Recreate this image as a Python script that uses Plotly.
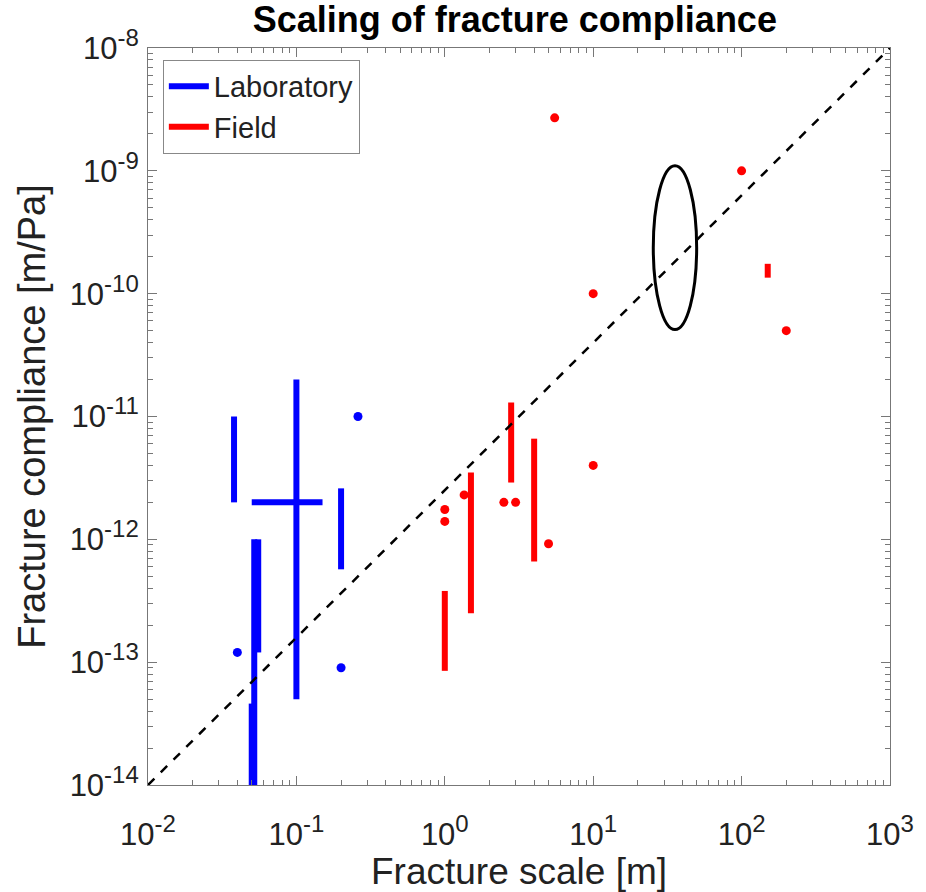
import plotly.graph_objects as go

# ---------------- data ----------------
# Laboratory vertical ranges: x, y_low, y_high
lab_bar_x = [0.038, 0.1, 0.2, 0.052, 0.0553, 0.05]
lab_bar_lo = [2e-12, 5e-14, 5.7e-13, 1e-14, 1.2e-13, 1e-14]
lab_bar_hi = [1e-11, 2e-11, 2.6e-12, 1e-12, 1e-12, 4.6e-14]
# Laboratory horizontal range: y, x_low, x_high
lab_hbar_y = [2e-12]
lab_hbar_lo = [0.05]
lab_hbar_hi = [0.15]
# Laboratory single points
lab_pt_x = [0.04, 0.2, 0.26]
lab_pt_y = [1.2e-13, 9e-14, 1e-11]

# Field vertical ranges
field_bar_x = [1.0, 1.5, 2.8, 4.0, 150]
field_bar_lo = [8.5e-14, 2.5e-13, 2.9e-12, 6.6e-13, 1.35e-10]
field_bar_hi = [3.8e-13, 3.5e-12, 1.3e-11, 6.6e-12, 1.75e-10]
# Field single points
field_pt_x = [1.0, 1.0, 1.35, 2.5, 3.0, 5.0, 10, 10, 5.5, 100, 200]
field_pt_y = [1.75e-12, 1.4e-12, 2.3e-12, 2e-12, 2e-12, 9.2e-13, 4e-12, 1e-10, 2.7e-9, 1e-9, 5e-11]

# Reference scaling line (corner to corner)
ref_x = [1e-2, 1e3]
ref_y = [1e-14, 1e-8]

# Ellipse bounds (x range, y range)
ell_x = [25.4, 49.8]
ell_y = [5.1e-11, 1.1e-9]

# Axis ticks
x_tickvals = [1e-2, 1e-1, 1e0, 1e1, 1e2, 1e3]
x_exps = ["-2", "-1", "0", "1", "2", "3"]
y_tickvals = [1e-14, 1e-13, 1e-12, 1e-11, 1e-10, 1e-9, 1e-8]
y_exps = ["-14", "-13", "-12", "-11", "-10", "-9", "-8"]

BLUE = "#0000ff"
RED = "#ff0000"
FONT = "Liberation Sans, Arial, Helvetica, sans-serif"
TXT = "#222222"


def pow_label(e):
    return "10<sup><span style='font-size:24px'>" + e + "</span></sup>"


def segs_vertical(xs, lo, hi):
    X, Y = [], []
    for x, a, b in zip(xs, lo, hi):
        X += [x, x, None]
        Y += [a, b, None]
    return X, Y


def segs_horizontal(ys, lo, hi):
    X, Y = [], []
    for y, a, b in zip(ys, lo, hi):
        X += [a, b, None]
        Y += [y, y, None]
    return X, Y


fig = go.Figure()

lx, ly = segs_vertical(lab_bar_x, lab_bar_lo, lab_bar_hi)
hx, hy = segs_horizontal(lab_hbar_y, lab_hbar_lo, lab_hbar_hi)
fig.add_trace(go.Scatter(x=lx + hx, y=ly + hy, mode="lines", name="Laboratory",
                         line=dict(color=BLUE, width=6), connectgaps=False))
fx, fy = segs_vertical(field_bar_x, field_bar_lo, field_bar_hi)
fig.add_trace(go.Scatter(x=fx, y=fy, mode="lines", name="Field",
                         line=dict(color=RED, width=6), connectgaps=False))

fig.add_trace(go.Scatter(x=lab_pt_x, y=lab_pt_y, mode="markers", showlegend=False,
                         marker=dict(color=BLUE, size=9, symbol="circle")))
fig.add_trace(go.Scatter(x=field_pt_x, y=field_pt_y, mode="markers", showlegend=False,
                         marker=dict(color=RED, size=9, symbol="circle")))

fig.add_trace(go.Scatter(x=ref_x, y=ref_y, mode="lines", showlegend=False,
                         line=dict(color="black", width=2.5, dash="dash")))

fig.add_shape(type="circle", xref="x", yref="y",
              x0=ell_x[0], x1=ell_x[1], y0=ell_y[0], y1=ell_y[1],
              line=dict(color="black", width=3))

minor_x = [m * 10 ** e for e in range(-2, 3) for m in range(2, 10)]
minor_y = [m * 10 ** e for e in range(-14, -8) for m in range(2, 10)]

axis_common = dict(
    type="log", showgrid=False, zeroline=False,
    showline=True, linecolor="#777777", linewidth=1, mirror="allticks",
    ticks="inside", ticklen=9, tickcolor="#777777", tickwidth=1,
    tickfont=dict(family=FONT, size=31, color=TXT),
    tickmode="array",
)

fig.update_xaxes(**axis_common, range=[-2, 3], tickvals=x_tickvals,
                 ticktext=[pow_label(e) for e in x_exps], ticklabelstandoff=22,
                 minor=dict(tickmode="array", tickvals=minor_x, ticks="inside",
                            ticklen=5, tickcolor="#777777"),
                 title=dict(text="Fracture scale [m]", font=dict(family=FONT, size=37, color=TXT),
                            standoff=2))
fig.update_yaxes(**axis_common, range=[-14, -8], tickvals=y_tickvals,
                 ticktext=[pow_label(e) for e in y_exps], ticklabelstandoff=2,
                 minor=dict(tickmode="array", tickvals=minor_y, ticks="inside",
                            ticklen=5, tickcolor="#777777"),
                 title=dict(text="Fracture compliance [m/Pa]", font=dict(family=FONT, size=38, color=TXT),
                            standoff=12))

fig.update_layout(
    width=926, height=892,
    margin=dict(l=148, r=36, t=48, b=105),
    paper_bgcolor="white", plot_bgcolor="white",
    title=dict(text="<b>Scaling of fracture compliance</b>", x=0.556, xanchor="center",
               y=0.978, yanchor="middle", font=dict(family=FONT, size=36, color="black")),
    legend=dict(x=0.02, y=0.984, xanchor="left", yanchor="top",
                bgcolor="white", bordercolor="#888888", borderwidth=1,
                font=dict(family=FONT, size=29, color=TXT),
                tracegroupgap=0, itemwidth=40),
    showlegend=True,
)

fig.write_html("out.html")
